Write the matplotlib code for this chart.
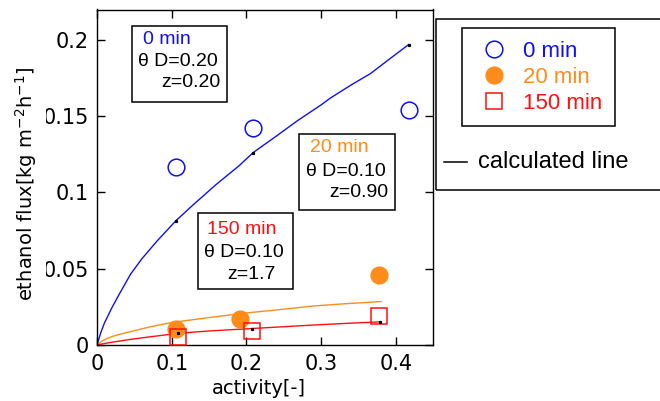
import matplotlib
matplotlib.use("Agg")
import matplotlib.pyplot as plt
from matplotlib.patches import Rectangle
from matplotlib.lines import Line2D

# ---------------- data ----------------
act_0 = [0.106, 0.209, 0.417]
flux_0 = [0.117, 0.1425, 0.154]
act_20 = [0.106, 0.191, 0.378]
flux_20 = [0.0103, 0.0171, 0.046]
act_150 = [0.109, 0.207, 0.378]
flux_150 = [0.0055, 0.0094, 0.019]

calc_x_0 = [0, 0.005, 0.01, 0.02, 0.03, 0.045, 0.06, 0.08, 0.1058, 0.13, 0.16,
            0.19, 0.209, 0.24, 0.268, 0.3, 0.3125, 0.34, 0.366, 0.39, 0.417]
calc_y_0 = [0, 0.008, 0.0145, 0.0245, 0.0335, 0.0465, 0.0565, 0.068, 0.0816, 0.0925,
            0.1055, 0.1175, 0.1262, 0.1370, 0.147, 0.1575, 0.162, 0.1705, 0.178,
            0.187, 0.197]
calc_x_20 = [0, 0.005, 0.01, 0.02, 0.03, 0.045, 0.07, 0.1, 0.13, 0.15, 0.196, 0.25,
             0.29, 0.33, 0.38]
calc_y_20 = [0, 0.002, 0.0035, 0.0055, 0.007, 0.0088, 0.0118, 0.0148, 0.0167, 0.018,
             0.0208, 0.0235, 0.0256, 0.027, 0.0285]
calc_x_150 = [0, 0.01, 0.02, 0.045, 0.07, 0.109, 0.15, 0.2075, 0.25, 0.29, 0.33, 0.38]
calc_y_150 = [0, 0.001, 0.0018, 0.0037, 0.0053, 0.0077, 0.0092, 0.0108, 0.012, 0.0131,
              0.0141, 0.0152]

# small black dots on calculated lines
dot_x = [0.1058, 0.209, 0.417, 0.109, 0.2075, 0.379]
dot_y = [0.0816, 0.1262, 0.197, 0.0077, 0.0108, 0.0152]

xticks = [0, 0.1, 0.2, 0.3, 0.4]
xticklabels = ["0", "0.1", "0.2", "0.3", "0.4"]
yticks = [0, 0.05, 0.1, 0.15, 0.2]
yticklabels = ["0", "0.05", "0.1", "0.15", "0.2"]

series_labels = ["0 min", "20 min", "150 min"]

BLUE = "#1010f0"
ORANGE = "#ff8c1a"
RED = "#ff1010"

W, H = 660, 401
plt.rcParams["mathtext.default"] = "regular"

fig = plt.figure(figsize=(W / 100, H / 100), dpi=100)
fig.patch.set_facecolor("white")


def fx(px):
    return px / W


def fy(py):
    return 1 - py / H


ax_l, ax_r, ax_t, ax_b = 97, 433.3, 9.5, 345
ax = fig.add_axes([fx(ax_l), fy(ax_b), (ax_r - ax_l) / W, (ax_b - ax_t) / H])

ax.plot(act_0, flux_0, linestyle="none", marker="o", ms=12, mfc="none",
        mec=BLUE, mew=1.1, zorder=3, label=series_labels[0])
ax.plot(act_20, flux_20, linestyle="none", marker="o", ms=12, mfc=ORANGE,
        mec=ORANGE, mew=1.1, zorder=3, label=series_labels[1])
ax.plot(act_150, flux_150, linestyle="none", marker="s", ms=11.5, mfc="none",
        mec=RED, mew=1.1, zorder=4, label=series_labels[2])

ax.plot(calc_x_0, calc_y_0, color=BLUE, lw=1.0, zorder=2)
ax.plot(calc_x_20, calc_y_20, color=ORANGE, lw=1.0, zorder=2)
ax.plot(calc_x_150, calc_y_150, color=RED, lw=1.0, zorder=2)
ax.plot(dot_x, dot_y, linestyle="none", marker="s", ms=1.3, color="black", zorder=5)

ax.set_xlim(0, 0.45)
ax.set_ylim(0, 0.22)
ax.set_xticks(xticks)
ax.set_xticklabels(xticklabels)
ax.set_yticks(yticks)
ax.set_yticklabels(yticklabels)
ax.tick_params(direction="in", length=6, width=1.0, top=True, right=True,
               labelsize=15, colors="black")
ax.tick_params(axis="x", pad=6.8)
ax.tick_params(axis="y", pad=6)
for lab in ax.get_xticklabels() + ax.get_yticklabels():
    lab.set_family("DejaVu Sans")
for s in ax.spines.values():
    s.set_linewidth(1.0)

ax.set_xlabel("activity[-]", fontsize=14, family="DejaVu Sans", labelpad=3.5)
ax.xaxis.label.set_x(0.482)

fig.text(fx(26), fy(184), r"ethanol flux[kg m$^{-2}$h$^{-1}$]", rotation=90,
         ha="center", va="center", fontsize=14, family="DejaVu Sans",
         bbox=dict(boxstyle="square,pad=0.38", fc="white", ec="none"))

# annotation boxes
ANN = dict(fontsize=14, family="Liberation Sans", va="center")


def box(x0, y0, x1, y1):
    fig.add_artist(Rectangle((fx(x0), fy(y1)), fx(x1) - fx(x0), fy(y0) - fy(y1),
                             transform=fig.transFigure, fill=True, fc="white",
                             ec="black", lw=1.1, zorder=6))


box(131.7, 26, 226.7, 101.7)
fig.text(fx(142.7), fy(40), "0 min", color=BLUE, zorder=7, **ANN)
fig.text(fx(138.3), fy(61), "θ D=0.20", color="black", zorder=7, **ANN)
fig.text(fx(220), fy(82.7), "z=0.20", color="black", ha="right", zorder=7, **ANN)

box(299.3, 134, 395, 210)
fig.text(fx(310), fy(147.7), "20 min", color=ORANGE, zorder=7, **ANN)
fig.text(fx(306), fy(171.7), "θ D=0.10", color="black", zorder=7, **ANN)
fig.text(fx(388.3), fy(192.7), "z=0.90", color="black", ha="right", zorder=7, **ANN)

box(198.3, 213.3, 293.3, 289.3)
fig.text(fx(207.3), fy(229.3), "150 min", color=RED, zorder=7, **ANN)
fig.text(fx(204), fy(252.7), "θ D=0.10", color="black", zorder=7, **ANN)
fig.text(fx(275.7), fy(274.3), "z=1.7", color="black", ha="right", zorder=7, **ANN)

# outer legend frame
fig.add_artist(Rectangle((fx(436), fy(190)), fx(700) - fx(436), fy(19) - fy(190),
                         transform=fig.transFigure, fill=False, ec="black", lw=1.1))
fig.add_artist(Line2D([fx(444), fx(467.3)], [fy(161.7), fy(161.7)],
                      transform=fig.transFigure, color="black", lw=1.1))
fig.text(fx(478), fy(161.7), "calculated line", fontsize=17, family="Liberation Sans",
         va="center", color="black")

# inner legend
leg = ax.legend(loc="upper left", bbox_to_anchor=(fx(461.7), fy(28.3)),
                bbox_transform=fig.transFigure, borderaxespad=0, frameon=True,
                fancybox=False, edgecolor="black", framealpha=1,
                prop={"family": "Liberation Sans", "size": 16},
                borderpad=0.57, labelspacing=0.22, handlelength=1.77,
                handletextpad=0.44, numpoints=1)
leg.get_frame().set_linewidth(1.1)
for t, c in zip(leg.get_texts(), [BLUE, ORANGE, RED]):
    t.set_color(c)

fig.savefig("out.png", dpi=100, facecolor="white")
